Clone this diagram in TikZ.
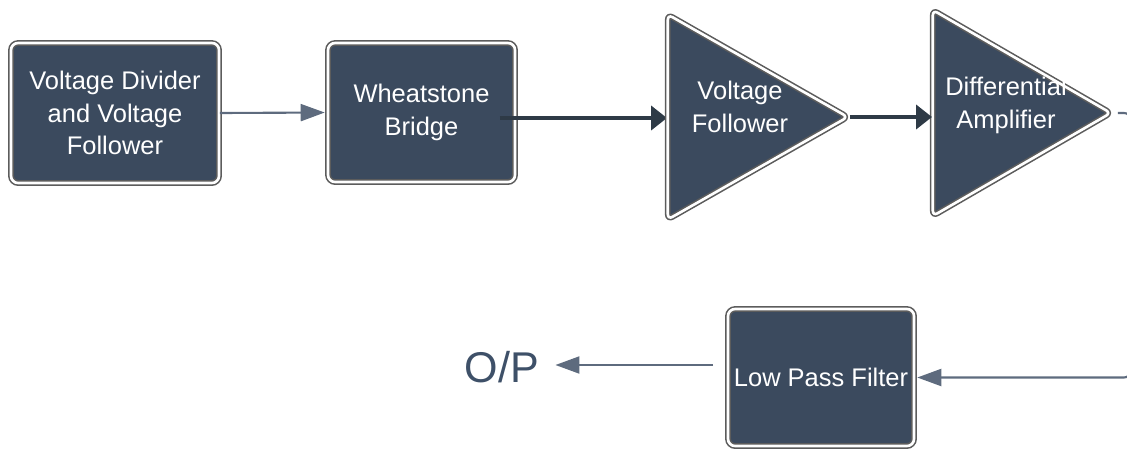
\documentclass[tikz,border=0pt]{standalone}
\usepackage{fontspec}
\setmainfont{Liberation Sans}
\usetikzlibrary{shapes.geometric,arrows.meta}
\definecolor{slate}{HTML}{3B4A5E}
\definecolor{rim}{HTML}{5C5C5C}
\definecolor{wirecol}{HTML}{5E6B7E}
\definecolor{boldcol}{HTML}{2E3A46}
\definecolor{optext}{HTML}{3E5068}
\begin{document}
\begin{tikzpicture}[
	block/.style={draw=rim,double=white,double distance=1.5pt,line width=0.9pt,fill=slate,rounded corners=4pt,inner sep=0pt,text=white,align=center,font=\fontsize{14.5}{18.7}\selectfont},
	amp/.style={isosceles triangle,isosceles triangle stretches,draw=rim,double=white,double distance=1.5pt,line width=0.9pt,fill=slate,rounded corners=3pt,inner sep=0pt,anchor=west},
	ampname/.style={text=white,align=center,inner sep=0pt,font=\fontsize{14.5}{18.7}\selectfont},
	wire/.style={draw=wirecol,line width=1.2pt,-{Triangle[length=0.48cm,width=0.34cm]},shorten >=0.05cm},
	boldwire/.style={draw=boldcol,line width=2.8pt,-{Triangle[length=0.32cm,width=0.48cm]}}
	]
			\useasboundingbox (0,0) rectangle (22.54,-9);
			% top row
			\node[block,minimum width=4.16cm,minimum height=2.80cm](divider) at (2.30,-2.26) {Voltage Divider\\and Voltage\\Follower};
			\node[block,minimum width=3.74cm,minimum height=2.78cm](bridge) at (8.43,-2.25) {Wheatstone\\Bridge};
			\draw[boldwire]([xshift=-0.32cm]bridge.east |- 0,-2.36)--(13.34,-2.36);
			\node[amp,minimum height=3.60cm,minimum width=4.10cm](amp1) at (13.34,-2.34) {};
			\node[amp,minimum height=3.56cm,minimum width=4.12cm](amp2) at (18.64,-2.26) {};
			\node[ampname](amp1txt) at (14.80,-2.14) {Voltage\\Follower};
			\node[ampname](amp2txt) at (20.12,-2.10) {Differential\\Amplifier};
			% bottom row
			\node[block,minimum width=3.72cm,minimum height=2.74cm](lpf) at (16.42,-7.55) {Low Pass Filter};
			\node[text=optext,font=\fontsize{24.5}{28}\selectfont,inner sep=0pt](op) at (10.04,-7.35) {O/P};
			\coordinate (fb) at (22.62,-7.55);
			\coordinate (opin) at ([shift={(-0.28,0.25)}]lpf.west);
			%		connectors
			\draw[wire](divider.east)--(bridge.west);
			\draw[boldwire](amp1.east)--(amp1.east -| amp2.west);
			\draw[wire,rounded corners=4pt,shorten <=0.1cm](amp2.east)-|(fb)--(lpf.east);
			\draw[wire,shorten >=0pt](opin)--([xshift=0.32cm]op.east |- opin);
		\end{tikzpicture}
\end{document}
